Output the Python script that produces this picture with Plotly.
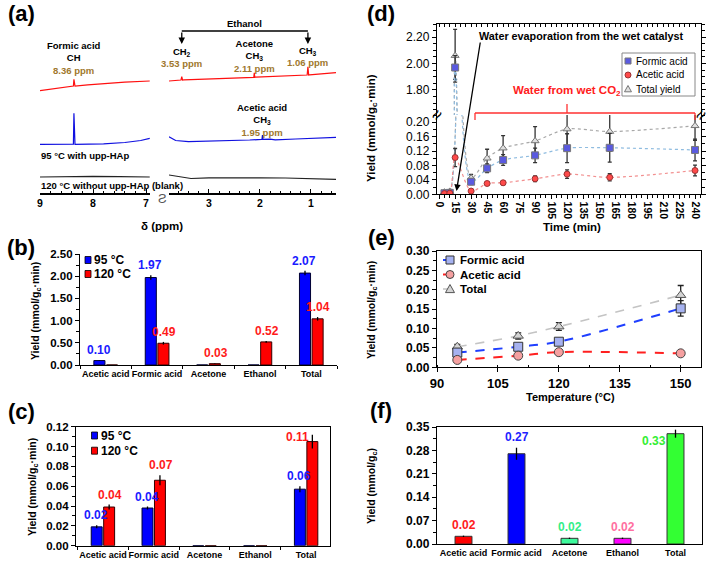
import plotly.graph_objects as go

W, H = 712, 561
def px(x): return x / W
def py(y): return 1 - y / H
def xd(a, b): return [a / W, b / W]
def yd(top, bottom): return [1 - bottom / H, 1 - top / H]

FONT = "Liberation Sans, Arial, sans-serif"
BLUE_T = "#1a1aff"
RED_T = "#ff1a1a"
GOLD = "#a0782d"

# ---------------- (a) NMR spectra (ppm, intensity) ----------------
ppm_red_l = [9.0, 8.7, 8.45, 8.38, 8.37, 8.36, 8.35, 8.34, 8.1, 7.8, 7.4, 6.93]
int_red_l = [2.3, 4.5, 6.2, 6.7, 7.0, 13.7, 7.0, 6.9, 8.2, 9.5, 10.8, 12.0]
ppm_red_r = [3.78, 3.57, 3.545, 3.53, 3.515, 3.49, 2.14, 2.12, 2.11, 2.10, 2.08, 1.09, 1.075, 1.06, 1.045, 1.03, 0.51]
int_red_r = [12.0, 12.9, 13.0, 16.3, 13.0, 13.1, 15.6, 15.7, 20.3, 15.7, 15.8, 17.9, 18.0, 26.3, 18.0, 18.1, 20.3]
ppm_blue_l = [9.0, 8.38, 8.37, 8.36, 8.35, 8.34, 7.8, 7.4, 7.1, 6.93]
int_blue_l = [-1.3, -1.3, -1.2, 29.7, -1.2, -1.3, -0.8, 0.5, 2.5, 4.7]
ppm_blue_r = [3.78, 3.65, 3.4, 2.8, 2.2, 1.97, 1.96, 1.95, 1.94, 1.8, 1.7, 1.3, 0.9, 0.51]
int_blue_r = [6.3, 2.5, 1.3, 1.8, 3.0, 3.6, 3.6, 8.0, 3.6, 3.8, 3.2, 4.0, 4.8, 5.7]
ppm_blk_l = [9.0, 8.5, 8.0, 7.5, 6.93]
int_blk_l = [0.0, 0.5, 0.6, 0.3, 0.0]
ppm_blk_r = [3.78, 3.6, 3.35, 3.0, 2.5, 2.0, 1.5, 1.0, 0.51]
int_blk_r = [2.0, 0.3, -1.5, -0.8, -0.5, -0.8, -1.0, -1.8, -2.3]

# ---------------- (b), (c), (f) bar data ----------------
cats = ["Acetic acid", "Formic acid", "Acetone", "Ethanol", "Total"]
b_95 = [0.10, 1.97, 0.0, 0.0, 2.07]
b_95_err = [0.005, 0.05, 0.0, 0.0, 0.05]
b_120 = [0.0, 0.49, 0.03, 0.52, 1.04]
b_120_err = [0.0, 0.03, 0.005, 0.02, 0.04]
b_lab95 = ["0.10", "1.97", "", "", "2.07"]
b_lab120 = ["", "0.49", "0.03", "0.52", "1.04"]

c_95 = [0.019, 0.038, 0.0, 0.0, 0.057]
c_95_err = [0.0015, 0.0015, 0.0, 0.0, 0.003]
c_120 = [0.039, 0.066, 0.0, 0.0, 0.105]
c_120_err = [0.0025, 0.005, 0.0, 0.0, 0.007]
c_lab95 = ["0.02", "0.04", "", "", "0.06"]
c_lab120 = ["0.04", "0.07", "", "", "0.11"]

f_vals = [0.023, 0.27, 0.017, 0.017, 0.33]
f_err = [0.002, 0.018, 0.002, 0.002, 0.012]
f_labels = ["0.02", "0.27", "0.02", "0.02", "0.33"]
f_colors = ["#ff0000", "#0000ff", "#3dfa9c", "#ff00ff", "#33ff33"]
f_lab_colors = ["#ff2020", "#1f1fff", "#33ee88", "#ff6f9f", "#33ee33"]

# ---------------- (d) time series ----------------
d_time = [5, 10, 15, 30, 45, 60, 90, 120, 160, 240]
d_formic = [0.003, 0.004, 1.97, 0.035, 0.072, 0.095, 0.108, 0.128, 0.129, 0.123]
d_formic_err = [0.003, 0.003, 0.09, 0.008, 0.012, 0.015, 0.02, 0.04, 0.04, 0.03]
d_acetic = [0.002, 0.003, 0.102, 0.009, 0.030, 0.032, 0.043, 0.056, 0.047, 0.066]
d_acetic_err = [0.002, 0.002, 0.025, 0.004, 0.005, 0.006, 0.008, 0.012, 0.01, 0.015]
d_total = [0.006, 0.008, 2.06, 0.045, 0.100, 0.128, 0.148, 0.181, 0.174, 0.190]
d_total_err = [0.004, 0.004, 0.2, 0.01, 0.025, 0.035, 0.04, 0.05, 0.055, 0.04]
d_ticks = list(range(0, 241, 15))

# ---------------- (e) temperature series ----------------
e_temp = [95, 110, 120, 150]
e_formic = [0.038, 0.053, 0.066, 0.152]
e_formic_err = [0.004, 0.004, 0.005, 0.02]
e_acetic = [0.019, 0.030, 0.039, 0.036]
e_acetic_err = [0.002, 0.002, 0.002, 0.002]
e_total = [0.053, 0.081, 0.105, 0.186]
e_total_err = [0.006, 0.008, 0.01, 0.025]

SPEC_OFFSET = {"red": 100, "blue": 50, "black": 16}

fig = go.Figure()

# ---- (a) traces ----
spec = [
    (ppm_red_l, int_red_l, "red", "#ff1010", "x"),
    (ppm_red_r, int_red_r, "red", "#ff1010", "x2"),
    (ppm_blue_l, int_blue_l, "blue", "#1010e0", "x"),
    (ppm_blue_r, int_blue_r, "blue", "#1010e0", "x2"),
    (ppm_blk_l, int_blk_l, "black", "#222222", "x"),
    (ppm_blk_r, int_blk_r, "black", "#222222", "x2"),
]
for xs, ys, key, col, xa in spec:
    fig.add_trace(go.Scatter(x=xs, y=[SPEC_OFFSET[key] + v for v in ys], mode="lines",
                             line=dict(color=col, width=1.2), xaxis=xa, yaxis="y",
                             showlegend=False, hoverinfo="skip"))

# ---- (b) bars ----
def errbar(arr):
    return dict(type="data", array=arr, color="black", thickness=1.3, width=0)

fig.add_trace(go.Bar(x=cats, y=b_95, error_y=errbar(b_95_err), xaxis="x3", yaxis="y3",
                     marker=dict(color="#0000ff", line=dict(color="#000033", width=1)), showlegend=False))
fig.add_trace(go.Bar(x=cats, y=b_120, error_y=errbar(b_120_err), xaxis="x3", yaxis="y3",
                     marker=dict(color="#ff0000", line=dict(color="#330000", width=1)), showlegend=False))
# ---- (c) bars ----
fig.add_trace(go.Bar(x=cats, y=c_95, error_y=errbar(c_95_err), xaxis="x4", yaxis="y4",
                     marker=dict(color="#0000ff", line=dict(color="#000033", width=1)), showlegend=False))
fig.add_trace(go.Bar(x=cats, y=c_120, error_y=errbar(c_120_err), xaxis="x4", yaxis="y4",
                     marker=dict(color="#ff0000", line=dict(color="#330000", width=1)), showlegend=False))
# ---- (f) bars ----
fig.add_trace(go.Bar(x=cats, y=f_vals, error_y=errbar(f_err), xaxis="x7", yaxis="y8", width=0.32,
                     marker=dict(color=f_colors, line=dict(color="#333333", width=1)), showlegend=False))

# ---- (d) lines on broken axis ----
def derr(arr):
    return dict(type="data", array=arr, color="#333333", thickness=1.3, width=2)

for xa, ya in [("x5", "y5"), ("x8", "y6")]:
    fig.add_trace(go.Scatter(x=d_time, y=d_total, error_y=derr(d_total_err), mode="lines+markers",
                             line=dict(color="#a8a8a8", width=1.2, dash="dot", shape="spline", smoothing=0.8),
                             marker=dict(symbol="triangle-up", size=7, color="#e0e0e0", line=dict(color="#777777", width=1)),
                             xaxis=xa, yaxis=ya, showlegend=False))
    fig.add_trace(go.Scatter(x=d_time, y=d_formic, error_y=derr(d_formic_err), mode="lines+markers",
                             line=dict(color="#8fbce0", width=1.2, dash="dot", shape="spline", smoothing=0.8),
                             marker=dict(symbol="square", size=7, color="#5a5ae0", line=dict(color="#777777", width=1)),
                             xaxis=xa, yaxis=ya, showlegend=False))
    fig.add_trace(go.Scatter(x=d_time, y=d_acetic, error_y=derr(d_acetic_err), mode="lines+markers",
                             line=dict(color="#f29090", width=1.2, dash="dot", shape="spline", smoothing=0.8),
                             marker=dict(symbol="circle", size=6, color="#ff4a4a", line=dict(color="#993333", width=1)),
                             xaxis=xa, yaxis=ya, showlegend=False))

# ---- (e) ----
def eerr(arr):
    return dict(type="data", array=arr, color="#222222", thickness=1.3, width=3)

fig.add_trace(go.Scatter(x=e_temp, y=e_total, error_y=eerr(e_total_err), mode="lines+markers",
                         line=dict(color="#c4c4c4", width=1.6, dash="dash", shape="spline"),
                         marker=dict(symbol="triangle-up", size=9, color="#d4d4d4", line=dict(color="#555555", width=1)),
                         xaxis="x6", yaxis="y7", showlegend=False))
fig.add_trace(go.Scatter(x=e_temp, y=e_formic, error_y=eerr(e_formic_err), mode="lines+markers",
                         line=dict(color="#1f3fff", width=2, dash="dash", shape="spline"),
                         marker=dict(symbol="square", size=9, color="#a6b2f0", line=dict(color="#333333", width=1)),
                         xaxis="x6", yaxis="y7", showlegend=False))
fig.add_trace(go.Scatter(x=e_temp, y=e_acetic, error_y=eerr(e_acetic_err), mode="lines+markers",
                         line=dict(color="#ff2020", width=2, dash="dash", shape="spline"),
                         marker=dict(symbol="circle", size=9, color="#f5a0a0", line=dict(color="#444444", width=1)),
                         xaxis="x6", yaxis="y7", showlegend=False))

# ---------------- axes ----------------
def axs(size=11, bold=True, **kw):
    base = dict(showline=True, linecolor="black", linewidth=1.3, showgrid=False, zeroline=False,
                automargin=False, ticks="outside", ticklen=4, tickcolor="black", tickwidth=1.2,
                tickfont=dict(family=FONT, size=size, color="black", weight="bold" if bold else "normal"))
    base.update(kw)
    return base

minor_in = lambda d: dict(dtick=d, ticks="inside", ticklen=2.5, tickcolor="black", tickwidth=1)
minor_out = lambda d: dict(dtick=d, ticks="outside", ticklen=2.5, tickcolor="black", tickwidth=1)

layout = dict(
    template="none",
    width=W, height=H, margin=dict(l=0, r=0, t=0, b=0, pad=0, autoexpand=False),
    paper_bgcolor="white", plot_bgcolor="white", showlegend=False,
    barmode="group", bargap=0.51, bargroupgap=0.12,
    font=dict(family=FONT, color="black"),
    # (a)
    xaxis=axs(10.5, domain=xd(40, 150), range=[9.0, 6.925], anchor="y", ticks="inside",
              tickvals=[9, 8, 7], minor=minor_in(0.2), linewidth=1.5),
    xaxis2=axs(10.5, domain=xd(169, 336), range=[3.78, 0.51], anchor="y", ticks="inside",
               tickvals=[3, 2, 1], minor=minor_in(0.2), linewidth=1.5),
    yaxis=dict(domain=yd(20, 193), range=[0, 173], visible=False, anchor="x", automargin=False),
    # (b)
    xaxis3=axs(9, domain=xd(80, 337), type="category", categoryorder="array", categoryarray=cats,
               range=[-0.5, 4.5], anchor="y3", tickson="boundaries", ticklen=3, tickangle=0),
    yaxis3=axs(11.5, domain=yd(254, 365), range=[0, 2.5], dtick=0.5, tickformat=".2f", anchor="x3",
               minor=minor_out(0.25)),
    # (c)
    xaxis4=axs(9, domain=xd(76, 330), type="category", categoryorder="array", categoryarray=cats,
               range=[-0.53, 4.47], anchor="y4", tickson="boundaries", ticklen=3, mirror=True, tickangle=0),
    yaxis4=axs(11.5, domain=yd(426.7, 545.7), range=[0, 0.12], dtick=0.02, tickformat=".2f", anchor="x4",
               minor=minor_out(0.01), mirror=True),
    # (d) lower
    xaxis5=axs(10.5, domain=xd(437, 701), range=[-2, 245.6], tickvals=d_ticks, tickangle=90,
               anchor="y5", minor=minor_out(5), ticklen=4),
    yaxis5=axs(12, bold=False, domain=yd(115, 194.3), range=[0, 0.22], tickvals=[0, 0.04, 0.08, 0.12, 0.16, 0.20],
               tickformat=".2f", anchor="x5", mirror="ticks", minor=minor_out(0.02)),
    # (d) upper
    xaxis8=axs(10, domain=xd(437, 701), range=[-2, 245.6], matches="x5", anchor="y6", side="top",
               ticks="inside", showticklabels=False, minor=minor_in(5), ticklen=3),
    yaxis6=axs(12, bold=False, domain=yd(24, 115), range=[1.61, 2.30], tickvals=[1.8, 2.0, 2.2],
               tickformat=".2f", anchor="x8", mirror="ticks", minor=minor_out(0.05)),
    # (e)
    xaxis6=axs(13, domain=xd(437, 701), range=[90, 155], dtick=15, anchor="y7", mirror=True,
               minor=minor_in(7.5)),
    yaxis7=axs(12, domain=yd(251, 367.3), range=[0, 0.30], dtick=0.05, tickformat=".2f", anchor="x6",
               mirror=True, minor=minor_out(0.025)),
    # (f)
    xaxis7=axs(9, domain=xd(437, 702), type="category", categoryorder="array", categoryarray=cats,
               range=[-0.5, 4.5], anchor="y8", mirror=True, ticks="", tickangle=0),
    yaxis8=axs(12, domain=yd(427, 544), range=[0, 0.35], dtick=0.07, tickformat=".2f", anchor="x7",
               mirror=True, minor=minor_out(0.035)),
)

annotations = []
def ann(text, x, y, size=11, color="black", bold=True, xanchor="center", yanchor="middle", angle=0,
        xref="paper", yref="paper", **kw):
    d = dict(text=text, x=px(x) if xref == "paper" else x, y=py(y) if yref == "paper" else y,
             xref=xref, yref=yref, xanchor=xanchor, yanchor=yanchor, showarrow=False, textangle=angle,
             font=dict(family=FONT, size=size, color=color, weight="bold" if bold else "normal"))
    d.update(kw)
    annotations.append(d)

# panel letters
for lab, x, y in [("(a)", 21, 14), ("(b)", 21, 247), ("(c)", 21, 411),
                  ("(d)", 381, 14), ("(e)", 381, 237), ("(f)", 381, 410)]:
    ann(lab, x, y, size=22)

# (a) labels
g = lambda s: "<span style='color:%s'>%s</span>" % (GOLD, s)
ann("Formic acid<br>CH<br>" + g("8.36 ppm"), 8.36, 58.5, size=9.5, xref="x")
ann("CH<sub>2</sub><br>" + g("3.53 ppm"), 3.53, 57.5, size=9.5, xref="x2")
ann("Acetone<br>CH<sub>3</sub><br>" + g("2.11 ppm"), 2.11, 56, size=9.5, xref="x2")
ann("CH<sub>3</sub><br>" + g("1.06 ppm"), 1.06, 57, size=9.5, xref="x2")
ann("Acetic acid<br>CH<sub>3</sub><br>" + g("1.95 ppm"), 1.95, 119.5, size=9.5, xref="x2")
ann("Ethanol", (3.53 + 1.06) / 2, 23, size=9.5, xref="x2")
ann("95 °C with upp-HAp", 39, 155, size=9.5, xanchor="left")
ann("120 °C without upp-HAp (blank)", 39, 185, size=9.5, xanchor="left")
ann("δ (ppm)", 162, 226, size=11.5)
ann("Ƨ", 162, 198, size=13, bold=False, color="#555555")
for xv in [3.53, 1.06]:
    annotations.append(dict(text="", x=xv, y=py(44), xref="x2", yref="paper", ax=0, ay=-13,
                            showarrow=True, arrowhead=2, arrowsize=1, arrowwidth=1.3, arrowcolor="black"))

# (b) labels
for i, c in enumerate(cats):
    if b_lab95[i]:
        ann(b_lab95[i], c, b_95[i] + b_95_err[i], size=12, color=BLUE_T, xref="x3", yref="y3",
            yanchor="bottom", xshift=-7, yshift=1)
    if b_lab120[i]:
        ann(b_lab120[i], c, b_120[i] + b_120_err[i], size=12, color=RED_T, xref="x3", yref="y3",
            yanchor="bottom", xshift=7, yshift=1)
ann("Yield (mmol/g<sub>c</sub>·min)", 36, 311, size=10.5, angle=-90)

# (c) labels
for i, c in enumerate(cats):
    if c_lab95[i]:
        ann(c_lab95[i], c, c_95[i] + c_95_err[i], size=12, color=BLUE_T, xref="x4", yref="y4",
            yanchor="bottom", xshift=-7, yshift=1)
    if c_lab120[i] and c != "Total":
        ann(c_lab120[i], c, c_120[i] + c_120_err[i], size=12, color=RED_T, xref="x4", yref="y4",
            yanchor="bottom", xshift=7, yshift=1)
ann(c_lab120[4], "Total", 0.11, size=12, color=RED_T, xref="x4", yref="y4", xshift=-9)
ann("Yield (mmol/g<sub>c</sub>·min)", 33, 487, size=10.5, angle=-90)

# (d) annotations
ann("Water evaporation from the wet catalyst", 581, 36, size=10.8)
annotations.append(dict(text="", x=px(456.5), y=py(191), xref="paper", yref="paper", ax=24, ay=-150,
                        showarrow=True, arrowhead=2, arrowsize=1, arrowwidth=1.3, arrowcolor="black"))
ann("Water from wet CO<sub>2</sub>", 567, 91, size=11.5, color="#ff2020")
ann("≈", 437, 115, size=18, bold=False, angle=-55)
ann("≈", 701, 115, size=18, bold=False, angle=-55)
ann("Yield (mmol/g<sub>c</sub>·min)", 372, 128, size=11.5, angle=-90)
ann("Time (min)", 572, 227, size=11.5)
# (d) legend texts
for lab, y in [("Formic acid", 61), ("Acetic acid", 75), ("Total yield", 89)]:
    ann(lab, 634, y, size=10, bold=False, xanchor="left")

# (e) annotations
ann("Yield (mmol/g<sub>c</sub>·min)", 372, 310, size=10.5, angle=-90)
ann("Temperature (°C)", 570, 397, size=11)
for lab, y in [("Formic acid", 260), ("Acetic acid", 274.5), ("Total", 289)]:
    ann(lab, 458, y, size=11.5, xanchor="left")

# (f) labels
for i, c in enumerate(cats):
    if c == "Total":
        ann(f_labels[i], c, f_vals[i], size=12, color=f_lab_colors[i], xref="x7", yref="y8", xshift=-22, yshift=-7)
    else:
        ann(f_labels[i], c, f_vals[i] + f_err[i], size=12, color=f_lab_colors[i], xref="x7", yref="y8",
            yanchor="bottom", yshift=2)
ann("Yield (mmol/g<sub>c</sub>)", 372, 486, size=10.5, angle=-90)

# (b)/(c) legends
for lab, col, y in [("95 °C", "#0000ff", 260), ("120 °C", "#ff0000", 274)]:
    ann(lab, 92, y, size=12, xanchor="left")
for lab, col, y in [("95 °C", "#0000ff", 435.5), ("120 °C", "#ff0000", 450.7)]:
    ann(lab, 99, y, size=12, xanchor="left")

shapes = []
def prect(x0, y0, x1, y1, fill, line="black", lw=0.8):
    shapes.append(dict(type="rect", xref="paper", yref="paper", x0=px(x0), x1=px(x1), y0=py(y1), y1=py(y0),
                       fillcolor=fill, line=dict(color=line, width=lw)))
def pline(x0, y0, x1, y1, color="black", lw=1, dash="solid"):
    shapes.append(dict(type="line", xref="paper", yref="paper", x0=px(x0), x1=px(x1), y0=py(y0), y1=py(y1),
                       line=dict(color=color, width=lw, dash=dash)))
def pcircle(cx, cy, r, fill, line):
    shapes.append(dict(type="circle", xref="paper", yref="paper", x0=px(cx - r), x1=px(cx + r),
                       y0=py(cy + r), y1=py(cy - r), fillcolor=fill, line=dict(color=line, width=1)))
def ptri(cx, cy, r, fill, line):
    pts = [(cx, cy - r), (cx + r, cy + r * 0.8), (cx - r, cy + r * 0.8)]
    path = "M " + " L ".join("%f,%f" % (px(a), py(b)) for a, b in pts) + " Z"
    shapes.append(dict(type="path", xref="paper", yref="paper", path=path, fillcolor=fill,
                       line=dict(color=line, width=1)))

# (b) legend squares
prect(85, 256.5, 91, 263.5, "#0000ff")
prect(85, 270.5, 91, 277.5, "#ff0000")
# (c) legend squares
prect(91.5, 432, 97.5, 439, "#0000ff")
prect(91.5, 447.2, 97.5, 454.2, "#ff0000")

# (a) ethanol bracket
shapes.append(dict(type="line", xref="x2", yref="paper", x0=3.53, x1=1.06, y0=py(31), y1=py(31),
                   line=dict(color="black", width=1.3)))

# (d) red bracket
pline(475, 113, 695, 113, "#ff3030", 1.3)
pline(475, 113, 475, 120, "#ff3030", 1.3)
pline(695, 113, 695, 120, "#ff3030", 1.3)
pline(567, 113, 567, 104, "#ff3030", 1.3)
# (d) legend box
prect(622, 53, 695, 96, "white", "#888888", 1)
prect(625, 58, 631, 64, "#5a5ae0", "#777777", 1)
pcircle(628, 75, 3, "#ff4a4a", "#993333")
ptri(628, 89, 3.5, "#e0e0e0", "#777777")

# (e) legend samples
pline(443, 260, 457, 260, "#1f3fff", 2, "dash")
prect(446, 256, 454, 264, "#a6b2f0", "#333333", 1)
pline(443, 274.5, 457, 274.5, "#ff2020", 2, "dash")
pcircle(450, 274.5, 4, "#f5a0a0", "#444444")
pline(443, 289, 457, 289, "#c4c4c4", 1.6, "dash")
ptri(450, 289, 4.5, "#d4d4d4", "#555555")

layout["annotations"] = annotations
layout["shapes"] = shapes
fig.update_layout(**layout)

fig.write_html("out.html", config={"displayModeBar": False},
               post_script="document.body.style.margin='0px';document.body.style.overflow='hidden';")
